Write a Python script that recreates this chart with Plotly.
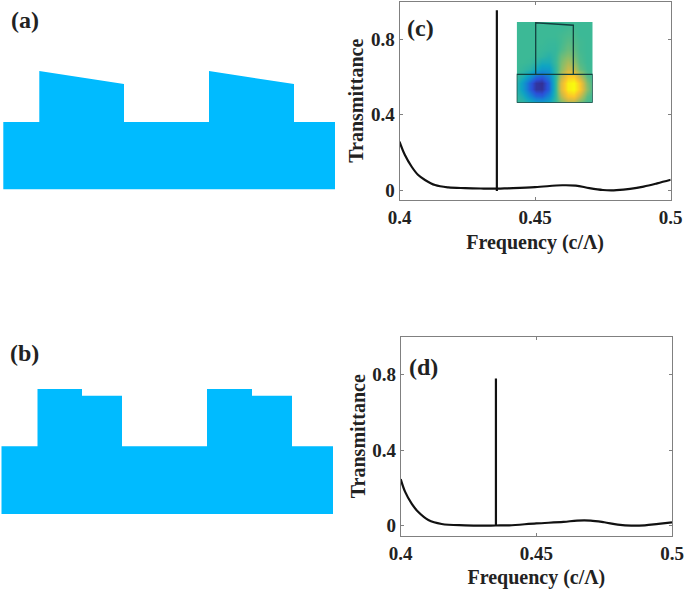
import plotly.graph_objects as go

W, H = 685, 589
FONT = "Liberation Serif"
INK = "#222222"
BLUE = "#00BBFF"

# Panel (a) profile
a_x = [3.3, 3.3, 39.3, 39.3, 124, 124, 209, 209, 294, 294, 335, 335]
a_y = [0, 67.5, 67.5, 118.5, 105.5, 67.5, 67.5, 118.5, 105.5, 67.5, 67.5, 0]
# Panel (b) profile
b_x = [1.5, 1.5, 37.5, 37.5, 82, 82, 122, 122, 207, 207, 252, 252, 292, 292, 333, 333]
b_y = [0, 67.7, 67.7, 125, 125, 118.3, 118.3, 67.7, 67.7, 125, 125, 118.3, 118.3, 67.7, 67.7, 0]

# Panel (c) spectrum
c_freq = [0.4, 0.402, 0.4045, 0.4069, 0.4094, 0.4131, 0.418, 0.4242, 0.43, 0.436, 0.44, 0.45,
          0.46, 0.465, 0.47, 0.475, 0.478, 0.48, 0.485, 0.49, 0.495, 0.5]
c_trans = [0.258, 0.187, 0.125, 0.081, 0.055, 0.028, 0.016, 0.012, 0.010, 0.009, 0.011, 0.017,
           0.027, 0.025, 0.012, 0.002, 0.0, 0.001, 0.008, 0.02, 0.037, 0.056]
c_peak_freq = [0.4359, 0.4359]
c_peak_trans = [-0.003, 0.954]
# Panel (d) spectrum
d_freq = [0.4, 0.4016, 0.4041, 0.4065, 0.4102, 0.4151, 0.4237, 0.43, 0.435, 0.44, 0.45,
          0.46, 0.465, 0.47, 0.475, 0.48, 0.485, 0.49, 0.495, 0.5]
d_trans = [0.246, 0.18, 0.115, 0.072, 0.03, 0.009, 0.002, 0.0, 0.001, 0.002, 0.012,
           0.02, 0.027, 0.027, 0.018, 0.006, 0.0, 0.002, 0.01, 0.018]
d_peak_freq = [0.4351, 0.4351]
d_peak_trans = [0.001, 0.779]

# Inset field of panel (c), read row by row from top to bottom
field = [
    [.52, .52, .52, .52, .52, .52, .52, .52, .52, .52, .52, .52, .52],
    [.52, .52, .52, .52, .52, .52, .52, .52, .53, .53, .52, .52, .52],
    [.52, .52, .52, .52, .52, .52, .52, .53, .54, .54, .52, .52, .52],
    [.52, .52, .52, .52, .52, .51, .51, .53, .56, .55, .53, .52, .52],
    [.52, .52, .52, .52, .51, .50, .50, .54, .58, .57, .53, .52, .52],
    [.52, .52, .52, .51, .49, .46, .50, .58, .62, .60, .54, .52, .52],
    [.52, .52, .51, .48, .42, .42, .50, .60, .68, .64, .55, .52, .52],
    [.52, .50, .47, .40, .33, .34, .48, .62, .74, .72, .58, .53, .52],
    [.50, .44, .32, .20, .16, .25, .46, .70, .87, .88, .72, .56, .52],
    [.46, .34, .16, .04, .02, .16, .46, .78, .97, 1.0, .87, .62, .53],
    [.46, .34, .16, .04, .03, .16, .46, .78, .97, 1.0, .88, .64, .53],
    [.49, .42, .28, .18, .16, .27, .47, .70, .86, .88, .74, .57, .52],
    [.51, .49, .44, .38, .36, .40, .50, .60, .68, .68, .58, .53, .52],
]
outline_x = [0, 0, 1, 1, 0, None, 0.25, 0.25, 0.745, 0.745]
outline_y = [1, 0.65, 0.65, 1, 1, None, 0.65, 0.01, 0.04, 0.65]

freq_ticks = [0.4, 0.45, 0.5]
freq_labels = ["0.4", "0.45", "0.5"]
trans_ticks = [0, 0.4, 0.8]
trans_labels = ["0", "0.4", "0.8"]

parula = [
    [0.0, "#352a87"], [0.12, "#2a50d8"], [0.25, "#1482d4"], [0.38, "#0fa5c2"],
    [0.52, "#3cb996"], [0.62, "#85bd6c"], [0.75, "#d0ba47"], [0.87, "#fcc52b"], [1.0, "#f9fb0e"],
]


def dx(a, b):
    return [a / W, b / W]


def dy(top, bottom):
    return [1 - bottom / H, 1 - top / H]


fig = go.Figure()
hidden = dict(visible=False, fixedrange=True)
layout = {}

layout["xaxis"] = dict(hidden, domain=dx(0, 340), range=[0, 340])
layout["yaxis"] = dict(hidden, domain=dy(0, 189.5), range=[0, 189.5])
layout["xaxis2"] = dict(hidden, domain=dx(0, 340), range=[0, 340])
layout["yaxis2"] = dict(hidden, domain=dy(335, 514), range=[0, 179])
fig.add_trace(go.Scatter(x=a_x, y=a_y, fill="toself", fillcolor=BLUE, mode="none", xaxis="x", yaxis="y"))
fig.add_trace(go.Scatter(x=b_x, y=b_y, fill="toself", fillcolor=BLUE, mode="none", xaxis="x2", yaxis="y2"))


def spectrum_axes(n, left, right, top, bottom, y_lo, y_hi):
    common = dict(
        showline=True, linecolor="#808080", linewidth=1, mirror="ticks", ticks="inside",
        ticklen=3, tickcolor="#808080", showgrid=False, zeroline=False, fixedrange=True,
        automargin=False,
        tickfont=dict(family=FONT, size=19, color=INK, weight="bold"),
    )
    title_font = dict(family=FONT, size=20, color=INK, weight="bold")
    layout[f"xaxis{n}"] = dict(
        common, domain=dx(left, right), range=[0.4, 0.5], tickvals=freq_ticks, ticktext=freq_labels,
        anchor=f"y{n}", title=dict(text="Frequency (c/Λ)", font=title_font, standoff=8),
    )
    layout[f"yaxis{n}"] = dict(
        common, domain=dy(top, bottom), range=[y_lo, y_hi], tickvals=trans_ticks, ticktext=trans_labels,
        anchor=f"x{n}", title=dict(text="Transmittance", font=title_font, standoff=1),
    )


spectrum_axes(3, 399.5, 670.7, 1.5, 200, -0.051, 1.0)
spectrum_axes(4, 400.7, 672, 336.7, 535.7, -0.053, 1.0)
line = dict(color="#111111", width=2.2)
curve = dict(color="#111111", width=2.2, shape="spline", smoothing=1.0)
fig.add_trace(go.Scatter(x=c_freq, y=c_trans, mode="lines", line=curve, xaxis="x3", yaxis="y3"))
fig.add_trace(go.Scatter(x=c_peak_freq, y=c_peak_trans, mode="lines", line=line, xaxis="x3", yaxis="y3"))
fig.add_trace(go.Scatter(x=d_freq, y=d_trans, mode="lines", line=curve, xaxis="x4", yaxis="y4"))
fig.add_trace(go.Scatter(x=d_peak_freq, y=d_peak_trans, mode="lines", line=line, xaxis="x4", yaxis="y4"))

layout["xaxis5"] = dict(hidden, domain=dx(516.7, 592.7), range=[0, 1], anchor="y5")
layout["yaxis5"] = dict(hidden, domain=dy(22, 102.7), range=[1, 0], anchor="x5")
fig.add_trace(go.Heatmap(
    z=field, x=[i / 12 for i in range(13)], y=[i / 12 for i in range(13)], zmin=0, zmax=1,
    colorscale=parula, zsmooth="best", showscale=False, xaxis="x5", yaxis="y5",
))
fig.add_trace(go.Scatter(x=outline_x, y=outline_y, mode="lines", line=dict(color="#12403f", width=1.3),
                         xaxis="x5", yaxis="y5", connectgaps=False))

labels = [("(a)", 25, 20), ("(b)", 25, 353), ("(c)", 420, 28), ("(d)", 423, 367)]
annotations = [
    dict(text=t, x=x / W, y=1 - y / H, xref="paper", yref="paper", showarrow=False,
         xanchor="center", yanchor="middle", font=dict(family=FONT, size=24, color=INK, weight="bold"))
    for t, x, y in labels
]

fig.update_layout(
    width=W, height=H, margin=dict(l=0, r=0, t=0, b=0, autoexpand=False), autosize=False, showlegend=False,
    paper_bgcolor="white", plot_bgcolor="rgba(0,0,0,0)", annotations=annotations, **layout,
)
fig.write_html("out.html", config=dict(displayModeBar=False),
               post_script="document.body.style.margin='0';document.documentElement.style.overflow='hidden';")
